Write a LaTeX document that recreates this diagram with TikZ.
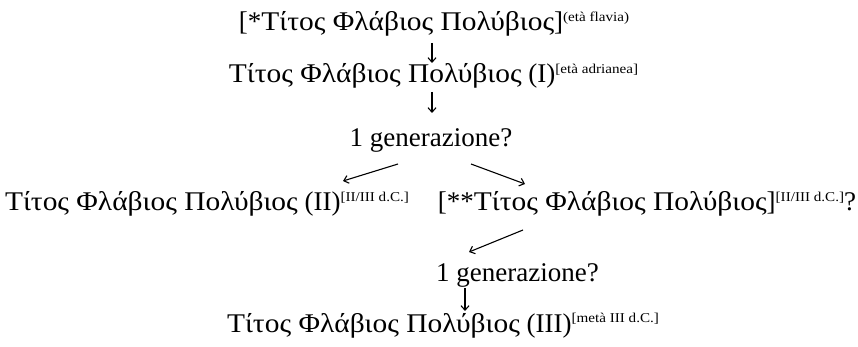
\documentclass[tikz,border=0pt]{standalone}
\usepackage{fontspec}
\setmainfont{Liberation Serif}
\newfontfamily\greekname{Liberation Serif}[FakeStretch=1.09]
\newfontfamily\notefont{Liberation Serif}[FakeStretch=1.12]
\usetikzlibrary{arrows.meta}
% dating note set as a small raised bracket
\newcommand{\datenote}[1]{\raisebox{9.5pt}{\notefont\fontsize{13.5}{14}\selectfont #1}}
% the recurring Greek name
\newcommand{\tfp}{{\greekname Τίτος Φλάβιος Πολύβιος}}
\begin{document}
\begin{tikzpicture}[x=1pt,y=-1pt,
  person/.style={inner sep=0pt, anchor=base, font=\fontsize{27}{30}\selectfont},
  link/.style={-{Straight Barb[length=4.5pt,width=8pt]}, line width=1.1pt}]
\useasboundingbox (0,0) rectangle (858,347);

% generations
\node[person] (p0) at (434,31) {[*\tfp]\datenote{(età flavia)}};
\node[person] (p1) at (433.5,83) {\tfp{} (I)\datenote{[età adrianea]}};
\node[person] (g1) at (431,147) {1 generazione?};
\node[person] (p2) at (207,211) {\tfp{} (II)\datenote{[II/III d.C.]}};
\node[person] (p2b) at (647,211) {[**\tfp]\datenote{[II/III d.C.]}?};
\node[person] (g2) at (517.5,281) {1 generazione?};
\node[person] (p3) at (443,332) {\tfp{} (III)\datenote{[metà III d.C.]}};

% arrow end points
\coordinate (a0s) at (432,43);  \coordinate (a0e) at (432,63);
\coordinate (a1s) at (432,92);  \coordinate (a1e) at (432,113);
\coordinate (a2s) at (398,164); \coordinate (a2e) at (343,181);
\coordinate (a3s) at (471,164); \coordinate (a3e) at (525,184);
\coordinate (a4s) at (523,230); \coordinate (a4e) at (469,252);
\coordinate (a5s) at (465,288); \coordinate (a5e) at (465,311);

\draw[link] (a0s) -- (a0e);
\draw[link] (a1s) -- (a1e);
\draw[link] (a2s) -- (a2e);
\draw[link] (a3s) -- (a3e);
\draw[link] (a4s) -- (a4e);
\draw[link] (a5s) -- (a5e);
\end{tikzpicture}
\end{document}
